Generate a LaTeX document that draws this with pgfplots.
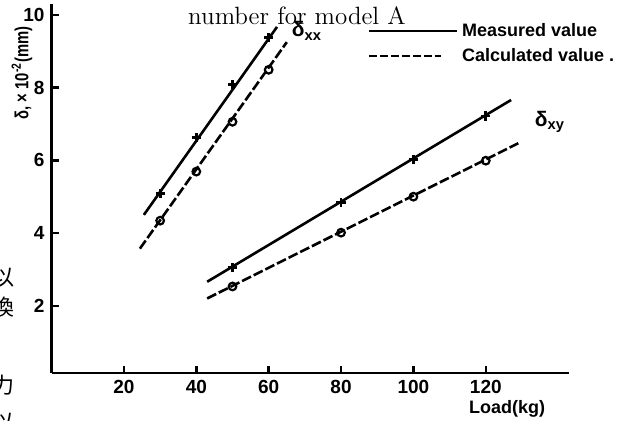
\documentclass[border=0pt]{standalone}
\usepackage{fontspec}
\usepackage{pgfplots}
\pgfplotsset{compat=1.18}
\newfontfamily\lab{Liberation Sans}
\newfontfamily\cjk{Noto Sans CJK JP}
\pgfplotsset{
  legsolid/.style={legend image code/.code={\draw[##1] (0pt,0pt) -- (40pt,0pt); \path (0pt,0pt) -- (44pt,0pt);}},
  legdash/.style={legend image code/.code={\draw[##1] (0pt,0pt) -- (36pt,0pt);}},
}
\begin{document}
\begin{tikzpicture}
\useasboundingbox (0pt,0pt) rectangle (311pt,-210.5pt);
\begin{axis}[
  at={(25.8pt,-186.5pt)}, anchor=south west,
  scale only axis, width=258.7pt, height=184.5pt,
  xmin=0, xmax=143, ymin=0.15, ymax=10.3,
  axis lines=left, axis line style={line width=1.4pt, -},
  xtick={20,40,60,80,100,120}, ytick={2,4,6,8,10},
  tick align=inside, major tick length=3.5pt,
  tick style={line width=1.2pt, black},
  /pgf/number format/assume math mode=true,
  ticklabel style={font=\lab\bfseries\fontsize{9.5}{11}\selectfont},
  clip=false,
  legend style={at={(0.61,0.96)}, anchor=north west, draw=none, fill=none,
    font=\lab\bfseries\small, row sep=0.5pt, inner sep=0pt},
  legend cell align=left,
]
% legend entries
\addlegendimage{line width=1.2pt, legsolid}
\addlegendentry{Measured value}
\addlegendimage{line width=1.2pt, dash pattern=on 4pt off 1.5pt, legdash}
\addlegendentry{Calculated value .}
% fitted lines
\addplot[forget plot, line width=1.3pt] coordinates {(25.5,4.5) (62.3,9.67)};
\addplot[forget plot, line width=1.3pt, dash pattern=on 5pt off 1.5pt] coordinates {(24.4,3.57) (65,9.25)};
\addplot[forget plot, line width=1.3pt] coordinates {(43,2.66) (127,7.66)};
\addplot[forget plot, line width=1.3pt, dash pattern=on 5pt off 1.5pt] coordinates {(43,2.2) (129,6.47)};
% measured points
\addplot[forget plot, only marks, mark=+, mark size=2.3pt, line width=1.4pt] coordinates {(30,5.08) (40,6.62) (50,8.08) (60,9.37)};
\addplot[forget plot, only marks, mark=+, mark size=2.3pt, line width=1.4pt] coordinates {(50,3.05) (80,4.84) (100,6.02) (120,7.22)};
% calculated points
\addplot[forget plot, only marks, mark=o, mark size=1.9pt, line width=1.1pt, fill=white] coordinates {(30,4.34) (40,5.69) (50,7.06) (60,8.49)};
\addplot[forget plot, only marks, mark=o, mark size=1.9pt, line width=1.1pt, fill=white] coordinates {(50,2.53) (80,4.01) (100,5.0) (120,5.99)};
\end{axis}
\node[anchor=base, font=\fontsize{12.5}{14}\selectfont] at (148.5pt,-12.5pt) {number for model A};
\node[rotate=90, font=\lab\bfseries\fontsize{9.5}{11}\selectfont] at (11pt,-36.5pt) {\scalebox{0.78}[1]{δ, × 10\textsuperscript{-2}(mm)}};
\node[font=\lab\bfseries\small] at (253.5pt,-204.5pt) {Load(kg)};
\node[font=\lab\bfseries\fontsize{10.5}{12}\selectfont] at (153.5pt,-15.5pt) {δ\textsubscript{xx}};
\node[font=\lab\bfseries\fontsize{10.5}{12}\selectfont] at (275pt,-61pt) {δ\textsubscript{xy}};
\node[font=\cjk\fontsize{11}{12}\selectfont] at (1.5pt,-139pt) {以};
\node[font=\cjk\fontsize{11}{12}\selectfont] at (1.5pt,-153.5pt) {換};
\node[font=\cjk\fontsize{11}{12}\selectfont] at (1.5pt,-192.5pt) {力};
\node[font=\cjk\fontsize{11}{12}\selectfont] at (1.5pt,-211.5pt) {以};
\end{tikzpicture}
\end{document}
